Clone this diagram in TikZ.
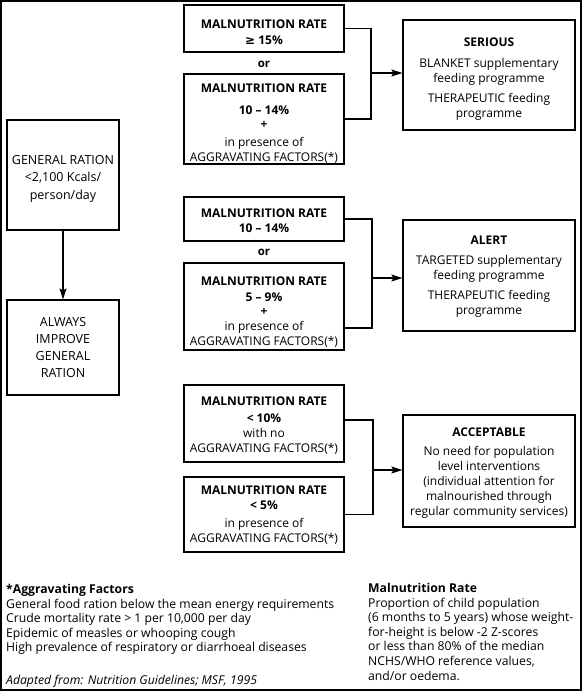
\documentclass[tikz,border=0pt]{standalone}
\usepackage{fontspec}
\setmainfont{Open Sans}
\newfontfamily\symfont{DejaVu Sans}
\usetikzlibrary{arrows.meta,calc}
\newcommand\vlift[1]{\rule{0pt}{#1}}
\begin{document}
\begin{tikzpicture}[x=1pt,y=-1pt,
  box/.style={draw,line width=1.2pt,align=center,inner sep=0pt,text depth=0pt,font=\fontsize{12}{15}\selectfont},
  rate/.style={box,minimum width=160pt},
  res/.style={box,minimum width=172pt},
  side/.style={box,minimum width=112pt,font=\fontsize{12.5}{17}\selectfont},
  conn/.style={line width=1.2pt},
  arr/.style={conn,-{Stealth[length=11pt,width=7pt,inset=2pt]}},
  ortext/.style={font=\fontsize{11.5}{12}\selectfont\bfseries,inner sep=0pt},
  note/.style={align=left,inner sep=0pt,anchor=north west,font=\fontsize{12.2}{14.6}\selectfont}]
\useasboundingbox (0,0) rectangle (582,691);
\draw[line width=2pt] (1,1) rectangle (581,690);

% left column
\node[side,minimum height=110pt] (gen) at (63,175) {\vlift{13pt}GENERAL RATION\\[0.5pt]{<}2,100 Kcals/\\[0.5pt]person/day};
\node[side,minimum height=95pt] (alw) at (63,347.5) {ALWAYS\\IMPROVE\\GENERAL\\RATION};
\draw[arr] (gen) -- (alw);

% serious group
\node[rate,line width=2.6pt,minimum height=47pt] (r1) at (264,28.5) {\vlift{15.5pt}\textbf{MALNUTRITION RATE}\\[1pt]\textbf{{\symfont ≥} 15\%}};
\node[ortext] (or1) at (264,64) {or};
\node[rate,minimum height=90pt] (r2) at (264,119) {\vlift{16.5pt}\textbf{MALNUTRITION RATE}\\[7pt]\textbf{10 – 14\%}\\[-1pt]\textbf{+}\\[3pt]in presence of\\AGGRAVATING FACTORS(*)};
\node[res,minimum height=110pt] (ser) at (489,75) {\vlift{14.5pt}\textbf{SERIOUS}\\[6pt]BLANKET supplementary\\feeding programme\\[5pt]THERAPEUTIC feeding\\programme};
\coordinate (j1) at (371,73);
\draw[conn] (r1.east) -| (j1);
\draw[conn] (r2.east) -| (j1);
\draw[arr] (j1) -- (j1 -| ser.west);

% alert group
\node[rate,minimum height=44pt] (r3) at (264,219) {\vlift{12.5pt}\textbf{MALNUTRITION RATE}\\\textbf{10 – 14\%}};
\node[ortext] (or2) at (264,252) {or};
\node[rate,minimum height=87pt] (r4) at (264,306.5) {\vlift{17pt}\textbf{MALNUTRITION RATE}\\[1pt]\textbf{5 – 9\%}\\[-1pt]\textbf{+}\\in presence of\\AGGRAVATING FACTORS(*)};
\node[res,minimum height=111pt] (ale) at (489,275.5) {\textbf{ALERT}\\[5pt]TARGETED supplementary\\feeding programme\\[5pt]THERAPEUTIC feeding\\programme};
\coordinate (j2) at (372,278);
\draw[conn] (r3.east) -| (j2);
\draw[conn] ([yshift=-21.5pt]r4.east) -| (j2);
\draw[arr] (j2) -- (j2 -| ale.west);

% acceptable group
\node[rate,minimum height=77pt] (r5) at (264,423.5) {\vlift{10.5pt}\textbf{MALNUTRITION RATE}\\[1.5pt]\textbf{< 10\%}\\with no\\AGGRAVATING FACTORS(*)};
\node[rate,minimum height=75pt] (r6) at (264,514.5) {\textbf{MALNUTRITION RATE}\\\textbf{< 5\%}\\[3pt]in presence of\\AGGRAVATING FACTORS(*)};
\node[res,minimum height=112pt] (acc) at (489,471) {\vlift{10.5pt}\textbf{ACCEPTABLE}\\[4pt]No need for population\\level interventions\\(individual attention for\\malnourished through\\regular community services)};
\coordinate (j3) at (373,470);
\draw[conn] ([yshift=3.5pt]r5.east) -| (j3);
\draw[conn] (r6.east) -| (j3);
\draw[arr] (j3) -- (j3 -| acc.west);

% notes
\node[note] (nl) at (6,584) {\textbf{*Aggravating Factors}\\General food ration below the mean energy requirements\\Crude mortality rate > 1 per 10,000 per day\\Epidemic of measles or whooping cough\\High prevalence of respiratory or diarrhoeal diseases};
\node[note] (src) at (6,675) {\itshape Adapted from: Nutrition Guidelines; MSF, 1995};
\node[note] (nr) at (368,583) {\textbf{Malnutrition Rate}\\Proportion of child population\\(6 months to 5 years) whose weight-\\for-height is below -2 Z-scores\\or less than 80\% of the median\\NCHS/WHO reference values,\\and/or oedema.};
\end{tikzpicture}
\end{document}
